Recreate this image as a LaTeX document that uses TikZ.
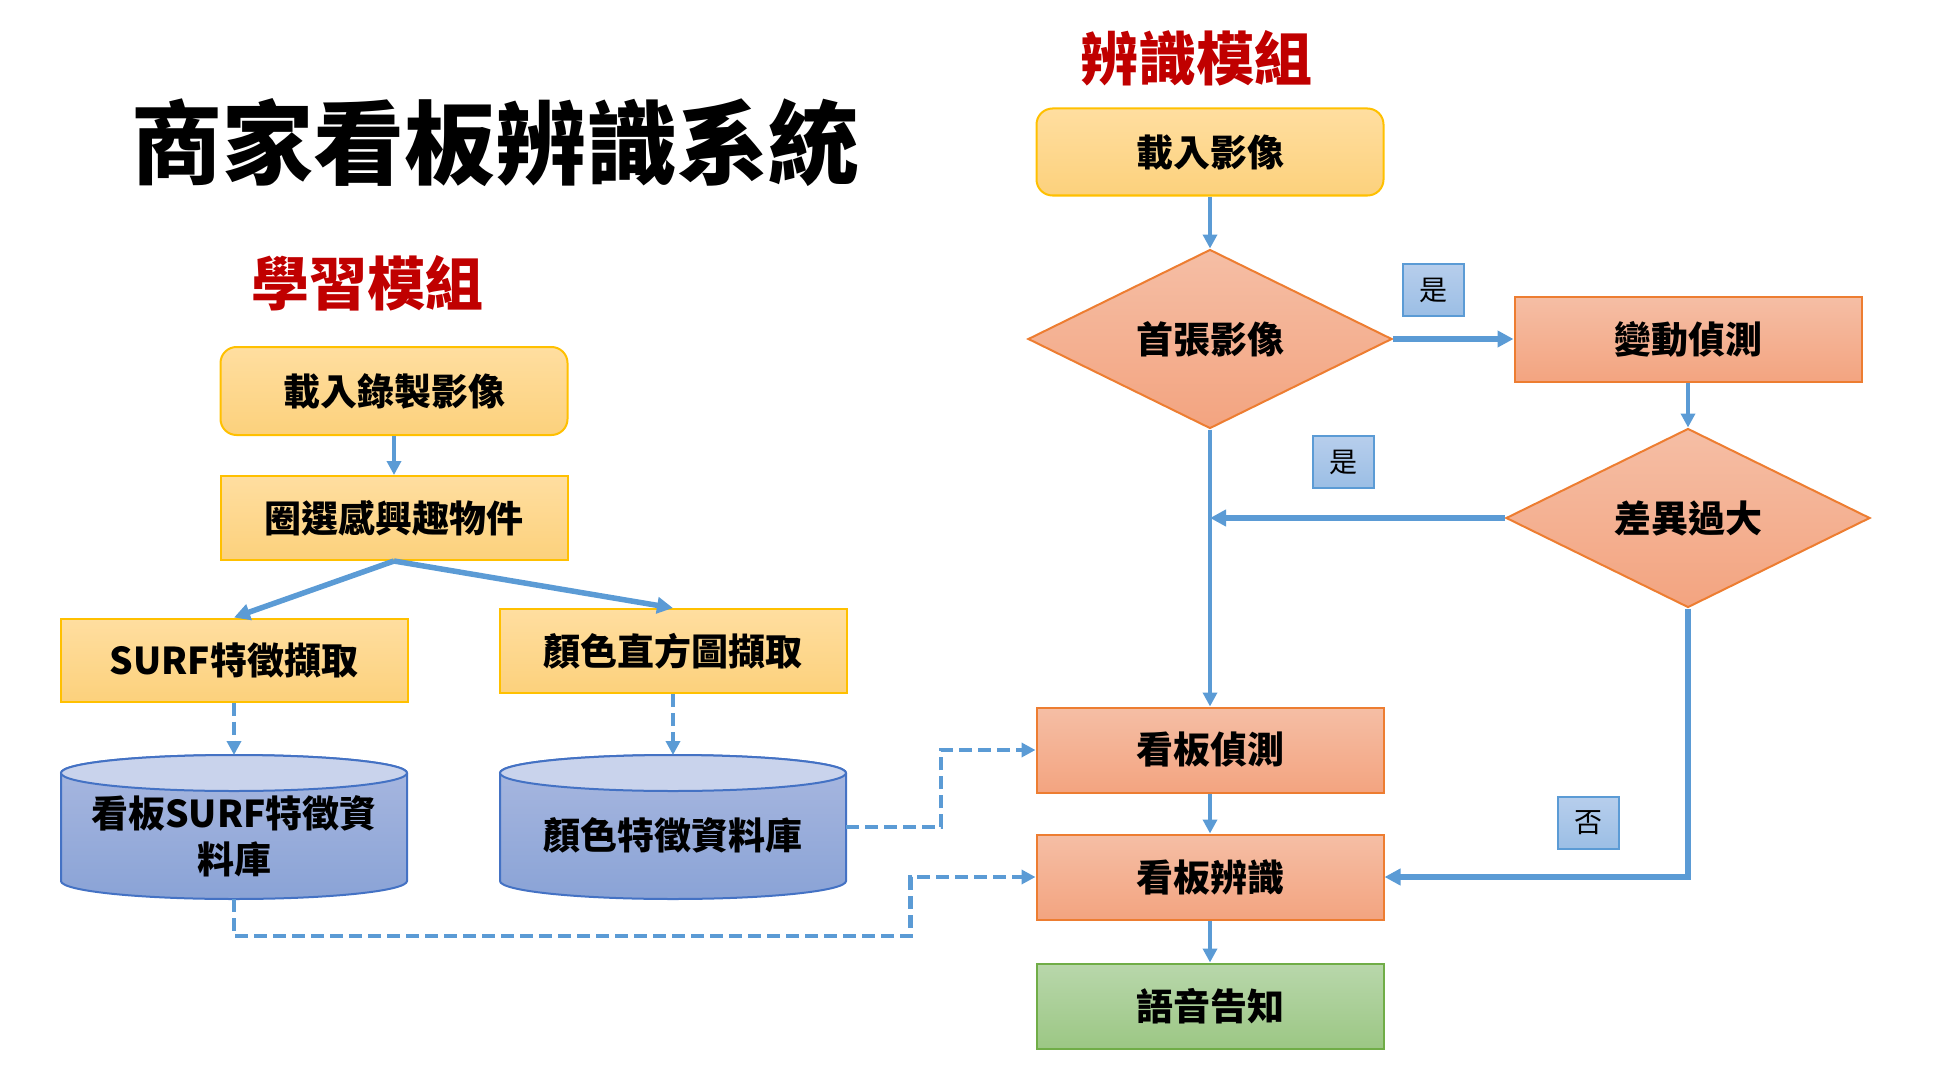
\documentclass[tikz,border=0pt]{standalone}
\usepackage{fontspec}
\newfontfamily\cjk{Noto Sans CJK TC}
\usetikzlibrary{shapes.geometric,arrows.meta}
\definecolor{ylwT}{HTML}{FFDEA0}
\definecolor{ylwB}{HTML}{FCD17C}
\definecolor{ylwD}{HTML}{FFC000}
\definecolor{orgT}{HTML}{F5BEA5}
\definecolor{orgB}{HTML}{F3A480}
\definecolor{orgD}{HTML}{ED7D31}
\definecolor{grnT}{HTML}{B8D7AB}
\definecolor{grnB}{HTML}{9CC784}
\definecolor{grnD}{HTML}{70AD47}
\definecolor{cylT}{HTML}{A9B8E0}
\definecolor{cylB}{HTML}{8AA3D6}
\definecolor{cylE}{HTML}{C9D3EC}
\definecolor{cylD}{HTML}{4472C4}
\definecolor{lblT}{HTML}{B7CEEC}
\definecolor{lblB}{HTML}{9BBEE5}
\definecolor{lblD}{HTML}{5B9BD5}
\definecolor{arw}{HTML}{5B9BD5}
\definecolor{redh}{HTML}{C00000}
\begin{document}
\begin{tikzpicture}[x=1pt,y=1pt,
  every node/.style={font=\cjk\bfseries\fontsize{37}{46}\selectfont, text=black},
  ybox/.style={draw=ylwD, line width=2pt, top color=ylwT, bottom color=ylwB, minimum width=347pt, minimum height=85pt, inner sep=0pt},
  obox/.style={draw=orgD, line width=2pt, top color=orgT, bottom color=orgB, minimum width=347pt, minimum height=85pt, inner sep=0pt},
  gbox/.style={draw=grnD, line width=2pt, top color=grnT, bottom color=grnB, minimum width=347pt, minimum height=85pt, inner sep=0pt},
  odia/.style={diamond, aspect=2, draw=orgD, line width=2pt, top color=orgT, bottom color=orgB, minimum width=364pt, minimum height=179pt, inner sep=0pt},
  lbl/.style={draw=lblD, line width=2pt, top color=lblT, bottom color=lblB, minimum width=61pt, minimum height=52pt, inner sep=0pt, font=\cjk\fontsize{28}{30}\selectfont},
  redhead/.style={text=redh, font=\cjk\bfseries\fontsize{58}{64}\selectfont},
  cylbody/.style={draw=cylD, line width=2pt, top color=cylT, bottom color=cylB},
  cylend/.style={draw=cylD, line width=2pt, fill=cylE},
  conn/.style={draw=arw, line width=4pt, -{Triangle[length=14pt,width=14pt]}},
  thickconn/.style={draw=arw, line width=5.5pt, -{Triangle[length=16pt,width=16pt]}},
  dconn/.style={draw=arw, line width=4.5pt, dash pattern=on 13pt off 6pt, -{Triangle[length=14pt,width=14pt]}}
]
\path[use as bounding box] (0,0) rectangle (1950,-1086);

% titles
\node[font=\cjk\bfseries\fontsize{91}{100}\selectfont] (title) at (495,-143) {商家看板辨識系統};
\node[redhead] (hL) at (367,-283) {學習模組};
\node[redhead] (hR) at (1196,-58) {辨識模組};

% learning module
\node[ybox, rounded corners=16pt, minimum height=88pt] (load1) at (394,-391) {載入錄製影像};
\node[ybox, minimum height=84pt] (roi) at (394,-518) {圈選感興趣物件};
\node[ybox, minimum height=83pt] (surf) at (234,-660) {SURF特徵擷取};
\node[ybox, minimum height=84pt] (hist) at (673,-651) {顏色直方圖擷取};

% cylinders
\path[cylbody] (61,-773) -- (61,-881) arc[start angle=180, end angle=360, x radius=173pt, y radius=18pt] -- (407,-773) arc[start angle=0, end angle=180, x radius=173pt, y radius=18pt] -- cycle;
\path[cylend] (234,-773) ellipse[x radius=173pt, y radius=18pt];
\path[cylbody] (500,-773) -- (500,-881) arc[start angle=180, end angle=360, x radius=173pt, y radius=18pt] -- (846,-773) arc[start angle=0, end angle=180, x radius=173pt, y radius=18pt] -- cycle;
\path[cylend] (673,-773) ellipse[x radius=173pt, y radius=18pt];
\coordinate (db1top) at (234,-755);
\coordinate (db1bot) at (234,-899);
\coordinate (db2top) at (673,-755);
\coordinate (db2r) at (846,-827);
\node[align=center] (db1) at (234,-836) {看板SURF特徵資\\料庫};
\node (db2) at (673,-835) {顏色特徵資料庫};

% recognition module
\node[ybox, rounded corners=16pt, minimum height=87pt] (load2) at (1210,-152) {載入影像};
\node[odia] (first) at (1210,-339) {首張影像};
\node[obox] (chg) at (1688,-339) {變動偵測};
\node[odia] (diff) at (1688,-518) {差異過大};
\node[obox] (det) at (1210,-750) {看板偵測};
\node[obox] (rec) at (1210,-877) {看板辨識};
\node[gbox] (voice) at (1210,-1006) {語音告知};
\node[lbl] (yes1) at (1433,-290) {是};
\node[lbl] (yes2) at (1343,-462) {是};
\node[lbl] (no) at (1588,-823) {否};
\coordinate (join) at (1210,-518);

% connectors learning
\draw[conn] (load1.south) -- (roi.north);
\draw[thickconn] (roi.south) -- (surf.north);
\draw[thickconn] (roi.south) -- (hist.north);
\draw[dconn] (surf.south) -- (db1top);
\draw[dconn] (hist.south) -- (db2top);
\draw[dconn] (db2r) -- ++(95,0) |- (det.west);
\draw[dconn] (db1bot) -- ++(0,-37) -| ([xshift=-125pt]rec.west) -- (rec.west);

% connectors recognition
\draw[conn] (load2.south) -- (first.north);
\draw[thickconn] (first.east) -- (chg.west);
\draw[conn] (chg.south) -- (diff.north);
\draw[thickconn] (diff.west) -- (join);
\draw[conn] (first.south) -- (det.north);
\draw[conn] (det.south) -- (rec.north);
\draw[thickconn] (diff.south) |- (rec.east);
\draw[conn] (rec.south) -- (voice.north);
\end{tikzpicture}
\end{document}
